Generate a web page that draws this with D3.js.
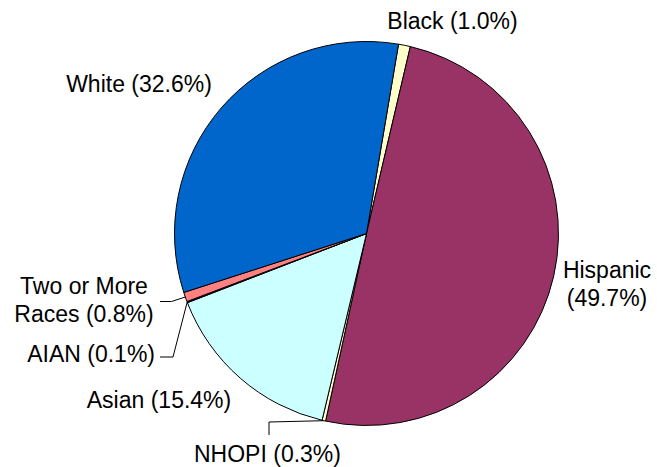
<!DOCTYPE html>
<html>
<head>
<meta charset="utf-8">
<script src="https://cdn.jsdelivr.net/npm/d3@7"></script>
<style>
  html, body { margin: 0; padding: 0; background: #fff; }
  svg text { font-family: "Liberation Sans", Arial, sans-serif; font-size: 23px; fill: #000; }
</style>
</head>
<body>
<svg id="chart" width="657" height="467"></svg>
<script>
// ---- Data ----
const categories = ["Black", "Hispanic", "NHOPI", "Asian", "AIAN", "Two or More Races", "White"];
const values = [1.0, 49.7, 0.3, 15.4, 0.1, 0.8, 32.6];
const colors = ["#FFFFCC", "#993366", "#FFFFCC", "#CCFFFF", "#660066", "#FF8080", "#0066CC"];
const labelLines = [
  ["Black (1.0%)"],
  ["Hispanic", "(49.7%)"],
  ["NHOPI (0.3%)"],
  ["Asian (15.4%)"],
  ["AIAN (0.1%)"],
  ["Two or More", "Races (0.8%)"],
  ["White (32.6%)"]
];

// ---- Layout ----
const cx = 366.5, cy = 233.5, r = 192;
const startDeg = 9.6;
const lineH = 28;
const labelPos = {
  "Black": [452.5, 29],
  "Hispanic": [607, 278],
  "NHOPI": [267.5, 462],
  "Asian": [159, 408],
  "AIAN": [155, 362],
  "Two or More Races": [84, 294],
  "White": [139, 92]
};
const labelAnchor = { "AIAN": "end" };
// leader elbow points (from label side); final point is computed on the arc
const leaders = {
  "Two or More Races": [[160, 301.5], [171.5, 301.5]],
  "AIAN": [[160, 357], [173, 357]],
  "NHOPI": [[269, 435], [269, 422]]
};

const svg = d3.select("#chart");
const g = svg.append("g").attr("transform", `translate(${cx},${cy})`);

const toRad = d => d * Math.PI / 180;
const pie = d3.pie().sort(null).value(d => d.v)
  .startAngle(toRad(startDeg)).endAngle(toRad(startDeg + 360));
const data = categories.map((c, i) => ({ c, v: values[i], col: colors[i], lines: labelLines[i] }));
const arcs = pie(data);
const arc = d3.arc().innerRadius(0).outerRadius(r);

g.selectAll("path.slice").data(arcs).enter().append("path")
  .attr("class", "slice")
  .attr("d", arc)
  .attr("fill", d => d.data.col)
  .attr("stroke", "#000")
  .attr("stroke-width", 1)
  .attr("stroke-linejoin", "round");

// leader lines
arcs.forEach(a => {
  const pts = leaders[a.data.c];
  if (!pts) return;
  const mid = (a.startAngle + a.endAngle) / 2;
  const end = [cx + r * Math.sin(mid), cy - r * Math.cos(mid)];
  svg.append("path")
    .attr("d", d3.line()(pts.concat([end])))
    .attr("fill", "none")
    .attr("stroke", "#000")
    .attr("stroke-width", 1);
});

// labels
arcs.forEach(a => {
  const p = labelPos[a.data.c];
  const anchor = labelAnchor[a.data.c] || "middle";
  const t = svg.append("text")
    .attr("x", p[0]).attr("y", p[1])
    .attr("text-anchor", anchor);
  a.data.lines.forEach((ln, i) => {
    t.append("tspan").attr("x", p[0]).attr("y", p[1] + i * lineH).text(ln);
  });
});
</script>
</body>
</html>
